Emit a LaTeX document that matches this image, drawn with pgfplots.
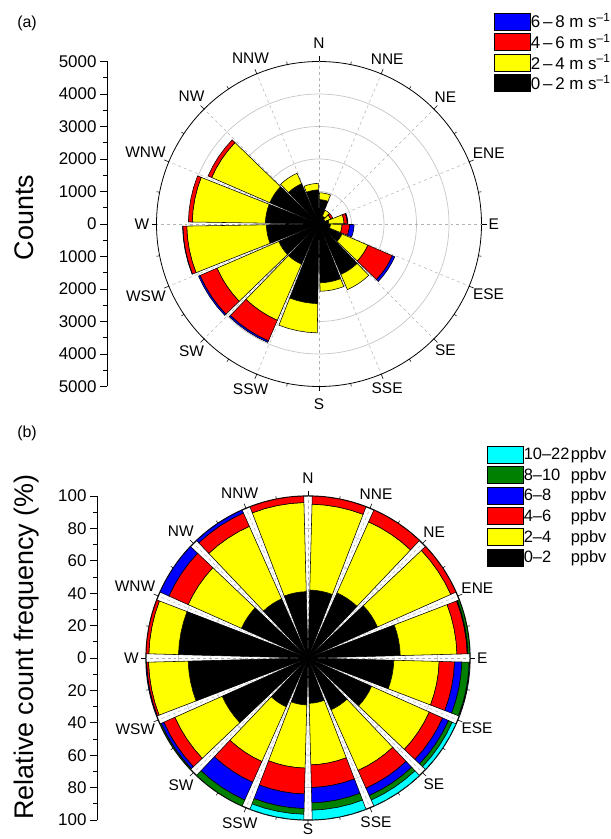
\documentclass[border=0pt]{standalone}
\usepackage{fontspec}
\setmainfont{Liberation Sans}
\usepackage{pgfplots}
\pgfplotsset{compat=1.18}
\usepgfplotslibrary{polar}
\definecolor{dgreen}{RGB}{0,128,0}
\definecolor{cyn}{RGB}{0,255,255}
\definecolor{yel}{RGB}{255,255,0}
\definecolor{rd}{RGB}{255,0,0}
\definecolor{bl}{RGB}{0,0,255}
\newcommand\ticksize{\fontsize{17}{19}\selectfont}
\newcommand\dirsize{\fontsize{15.5}{17}\selectfont}
\newcommand\labsize{\fontsize{27}{30}\selectfont}
\newcommand\legsize{\fontsize{17}{19}\selectfont}
% one wedge: #1 half gap (deg), #2 compass start of sector, #3 inner radius, #4 outer radius, #5 colour
\newcommand\sect[5]{%
 \pgfmathsetmacro\aS{90-#2-22.5+#1}%
 \pgfmathsetmacro\aE{90-#2-#1}%
 \pgfmathsetmacro\aB{\aS+(\aE-\aS)/4}%
 \pgfmathsetmacro\aC{\aS+(\aE-\aS)/2}%
 \pgfmathsetmacro\aD{\aS+3*(\aE-\aS)/4}%
 \addplot[forget plot, fill=#5, draw=black, line width=0.55bp] coordinates {(\aS,#3) (\aS,#4) (\aB,#4) (\aC,#4) (\aD,#4) (\aE,#4) (\aE,#3) (\aD,#3) (\aC,#3) (\aB,#3) (\aS,#3)};%
}
\newcommand\layer[5]{\pgfmathparse{(#4>#3)?1:0}\ifdim\pgfmathresult pt>0.5pt \sect{#1}{#2}{#3}{#4}{#5}\fi}
% panel (a): compass start, cumulative counts 0-2, 2-4, 4-6, 6-8 m/s
\newcommand\rowA[5]{\layer{0.9}{#1}{0}{#2}{black}\layer{0.9}{#1}{#2}{#3}{yel}\layer{0.9}{#1}{#3}{#4}{rd}\layer{0.9}{#1}{#4}{#5}{bl}}
% panel (b): compass start, cumulative % 0-2, 2-4, 4-6, 6-8, 8-10, 10-22 ppbv
\newcommand\rowB[7]{\layer{1.5}{#1}{0}{#2}{black}\layer{1.5}{#1}{#2}{#3}{yel}\layer{1.5}{#1}{#3}{#4}{rd}\layer{1.5}{#1}{#4}{#5}{bl}\layer{1.5}{#1}{#5}{#6}{dgreen}\layer{1.5}{#1}{#6}{#7}{cyn}}
\pgfplotsset{
 legbox/.style={legend image code/.code={\draw[##1, line width=0.6bp] (0bp,-8.5bp) rectangle (36bp,8.5bp);}},
 rose/.style={
  xmin=0, xmax=360, ymin=0,
  minor xtick={11.25,33.75,...,348.75},
  tick align=inside, major tick length=5bp, minor tick length=3bp,
  xtick style={black, line width=0.6bp},
  yticklabels={}, ytick style={draw=none},
  xmajorgrids, ymajorgrids,
  x grid style={gray!60, dashed, line width=0.5bp},
  y grid style={gray!45, line width=0.7bp},
  y axis line style={draw=none},
  xticklabel style={font=\dirsize},
  legbox, legend cell align=left,
  /tikz/every even column/.append style={column sep=5bp},
 },
 scale/.style={scale only axis, width=20bp, xmin=0, xmax=1, axis x line=none, axis y line*=left,
  minor y tick num=1, tick align=outside, major tick length=7bp, minor tick length=4bp,
  tick style={black, line width=0.6bp}, axis line style={line width=0.6bp},
  /pgf/number format/assume math mode=true, yticklabel style={font=\ticksize}},
}
\newcommand\ms{m s\textsuperscript{–1}}
\begin{document}
\begin{tikzpicture}
\path[use as bounding box] (0,0) rectangle (611bp,839bp);
\node[font=\fontsize{16}{18}\selectfont] at (27bp,816bp) {(a)};
\node[font=\fontsize{16}{18}\selectfont] at (27bp,406bp) {(b)};
% ---------- panel (a) radial scale ----------
\begin{axis}[scale, at={(107bp,452.5bp)}, anchor=south west, height=325bp,
 ymin=-5000, ymax=5000,
 ytick={-5000,-4000,...,5000}, yticklabels={5000,4000,3000,2000,1000,0,1000,2000,3000,4000,5000},
 ylabel={Counts}, ylabel style={font=\labsize, at={(axis description cs:-3.7,0.52)}, anchor=base}]
\end{axis}
% ---------- panel (a) wind rose ----------
\begin{polaraxis}[rose, at={(319bp,615bp)}, anchor=center, scale only axis, width=325bp, height=325bp,
 ymax=5000, ytick={1000,2000,3000,4000},
 xtick={22.5,45,67.5,112.5,135,157.5,202.5,225,247.5,292.5,315,337.5},
 xticklabels={ENE,NE,NNE,NNW,NW,WNW,WSW,SW,SSW,SSE,SE,ESE},
 extra x ticks={0,90,180,270}, extra x tick labels={E,N,W,S},
 extra x tick style={xmajorgrids, xticklabel style={inner xsep=7bp, inner ysep=12.5bp}},
 axis line style={black, line width=0.8bp},
 legend style={draw=none, fill=none, inner sep=0pt, row sep=3bp, font=\legsize,
   nodes={inner sep=0pt}, at={(axis description cs:1.0385,1.1508)}, anchor=north west},
]
\rowA{0}{750}{960}{960}{960}
\rowA{22.5}{260}{460}{460}{460}
\rowA{45}{200}{390}{460}{460}
\rowA{67.5}{300}{770}{870}{890}
\rowA{90}{350}{710}{940}{1080}
\rowA{112.5}{770}{1640}{2460}{2540}
\rowA{135}{1690}{2200}{2200}{2200}
\rowA{157.5}{1810}{2070}{2070}{2070}
\rowA{180}{2450}{3350}{3350}{3350}
\rowA{202.5}{1350}{3230}{3920}{3970}
\rowA{225}{1350}{3420}{3990}{4040}
\rowA{247.5}{1620}{4070}{4190}{4200}
\rowA{270}{1650}{3900}{4020}{4020}
\rowA{292.5}{1650}{3600}{3720}{3720}
\rowA{315}{1350}{1700}{1700}{1700}
\rowA{337.5}{1050}{1250}{1250}{1250}
\addlegendimage{fill=bl, draw=black}\addlegendentry{6\,–\,8 \ms}
\addlegendimage{fill=rd, draw=black}\addlegendentry{4\,–\,6 \ms}
\addlegendimage{fill=yel, draw=black}\addlegendentry{2\,–\,4 \ms}
\addlegendimage{fill=black, draw=black}\addlegendentry{0\,–\,2 \ms}
\end{polaraxis}
% ---------- panel (b) radial scale ----------
\begin{axis}[scale, at={(97bp,19bp)}, anchor=south west, height=324bp,
 ymin=-100, ymax=100,
 ytick={-100,-80,...,100}, yticklabels={100,80,60,40,20,0,20,40,60,80,100},
 ylabel={Relative count frequency (\%)}, ylabel style={font=\labsize, at={(axis description cs:-3.2,0.534)}, anchor=base}]
\end{axis}
% ---------- panel (b) rose ----------
\begin{polaraxis}[rose, at={(308bp,181bp)}, anchor=center, scale only axis, width=324bp, height=324bp,
 ymax=100, ytick={20,40,60,80},
 xtick={22.5,45,67.5,112.5,135,157.5,202.5,225,247.5,270,292.5,315,337.5},
 xticklabels={ENE,NE,NNE,NNW,NW,WNW,WSW,SW,SSW,S,SSE,SE,ESE},
 extra x ticks={0,90,180}, extra x tick labels={E,N,W},
 extra x tick style={xmajorgrids, xticklabel style={inner xsep=7bp, inner ysep=12.5bp}},
 axis line style={black, line width=1.2bp},
 legend style={draw=none, fill=none, inner sep=0pt, row sep=3bp, font=\fontsize{16.5}{18}\selectfont,
   nodes={inner sep=0pt}, at={(axis description cs:1.0525,1.156)}, anchor=north west},
]
\rowB{0}{42}{95}{100}{100}{100}{100}
\rowB{22.5}{44}{92}{100}{100}{100}{100}
\rowB{45}{47}{96.5}{100}{100}{100}{100}
\rowB{67.5}{57}{92}{98.3}{98.8}{100}{100}
\rowB{90}{53}{81}{90.5}{95}{99.5}{100}
\rowB{112.5}{43}{82}{91}{95}{97.5}{100}
\rowB{135}{35}{76}{88}{93}{96}{100}
\rowB{157.5}{28}{66}{80}{89.5}{94}{100}
\rowB{180}{29}{68}{84}{93}{96.5}{100}
\rowB{202.5}{33}{70}{84}{96}{100}{100}
\rowB{225}{58}{90}{97.5}{99.3}{100}{100}
\rowB{247.5}{74}{98.5}{99.7}{100}{100}{100}
\rowB{270}{80}{98.3}{100}{100}{100}{100}
\rowB{292.5}{45}{81}{94}{100}{100}{100}
\rowB{315}{40}{89}{98}{100}{100}{100}
\rowB{337.5}{41}{96}{100}{100}{100}{100}
\addlegendimage{fill=cyn, draw=black}\addlegendentry{\makebox[47bp][l]{10–22}ppbv}
\addlegendimage{fill=dgreen, draw=black}\addlegendentry{\makebox[47bp][l]{8–10}ppbv}
\addlegendimage{fill=bl, draw=black}\addlegendentry{\makebox[47bp][l]{6–8}ppbv}
\addlegendimage{fill=rd, draw=black}\addlegendentry{\makebox[47bp][l]{4–6}ppbv}
\addlegendimage{fill=yel, draw=black}\addlegendentry{\makebox[47bp][l]{2–4}ppbv}
\addlegendimage{fill=black, draw=black}\addlegendentry{\makebox[47bp][l]{0–2}ppbv}
\end{polaraxis}
\end{tikzpicture}
\end{document}
